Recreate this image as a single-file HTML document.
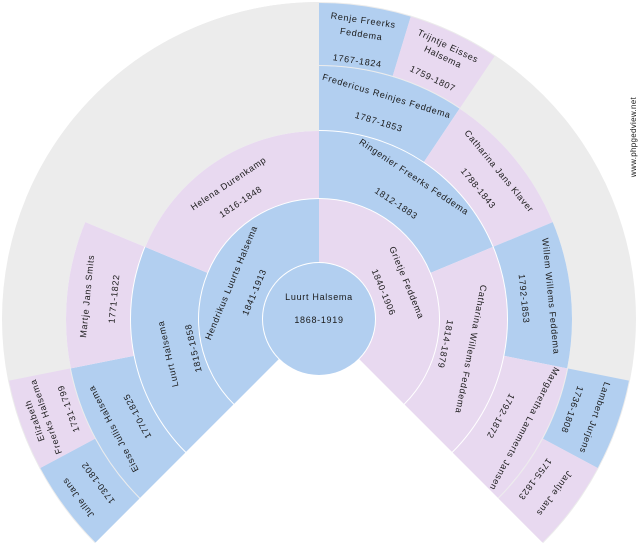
<!DOCTYPE html>
<html><head><meta charset="utf-8"><style>
html,body{margin:0;padding:0;background:#fff;width:640px;height:550px;overflow:hidden}
svg{display:block}
text{font-family:"Liberation Sans","DejaVu Sans",sans-serif;font-size:9px;fill:#1a1a1a;letter-spacing:0.7px;text-anchor:middle}
</style></head><body>
<svg id="s" width="640" height="550" viewBox="0 0 640 550" xmlns="http://www.w3.org/2000/svg">
<g id="segs"></g>
<g id="txt">
<text x="319" y="300">Luurt Halsema</text>
<text x="319" y="323">1868-1919</text>

<g transform="rotate(-67.5 319 319) translate(319 231)"><text y="-4">Hendrikus Luurts Halsema</text><text y="21">1841-1913</text></g>
<g transform="rotate(67.5 319 319) translate(319 231)"><text y="-4">Grietje Feddema</text><text y="21">1840-1906</text></g>

<g transform="rotate(-103 319 319) translate(319 165)"><text y="2">Luurt Halsema</text><text y="28">1815-1858</text></g>
<g transform="rotate(-33.75 319 319) translate(319 165)"><text y="-6">Helena Durenkamp</text><text y="16">1816-1848</text></g>
<g transform="rotate(33.75 319 319) translate(319 165)"><text y="-14">Ringenier Freerks Feddema</text><text y="18">1812-1883</text></g>
<g transform="rotate(101.25 319 319) translate(319 165)"><text y="2">Catharina Willems Feddema</text><text y="28">1814-1879</text></g>

<g transform="rotate(-118.125 319 319) translate(319 99)"><text y="-10">Eisse Jullis Halsema</text><text y="17">1770-1825</text></g>
<g transform="rotate(-84.375 319 319) translate(319 99)"><text y="-10">Martje Jans Smits</text><text y="17">1771-1822</text></g>
<g transform="rotate(16.875 319 319) translate(319 99)"><text y="-10">Fredericus Reinjes Feddema</text><text y="17">1787-1853</text></g>
<g transform="rotate(50.625 319 319) translate(319 99)"><text y="-10">Catharina Jans Klaver</text><text y="17">1788-1843</text></g>
<g transform="rotate(84.375 319 319) translate(319 99)"><text y="-10">Willem Willems Feddema</text><text y="17">1792-1853</text></g>
<g transform="rotate(118.125 319 319) translate(319 99)"><text y="-10">Margaretha Lammerts Jansen</text><text y="17">1792-1872</text></g>

<g transform="rotate(-126.5625 319 319) translate(319 34)"><text y="-12">Julle Jans</text><text y="13">1730-1802</text></g>
<g transform="rotate(-109.6875 319 319) translate(319 34)"><text y="-14">Elizabeth</text><text y="-2">Freerks Halsema</text><text y="22">1731-1799</text></g>
<g transform="rotate(8.4375 319 319) translate(319 34)"><text y="-14">Renje Freerks</text><text y="0">Feddema</text><text y="27">1767-1824</text></g>
<g transform="rotate(25.3125 319 319) translate(319 34)"><text y="-14">Trijntje Eisses</text><text y="-2">Halsema</text><text y="22">1759-1807</text></g>
<g transform="rotate(109.6875 319 319) translate(319 34)"><text y="-5">Lambert Jurjens</text><text y="19">1736-1808</text></g>
<g transform="rotate(126.5625 319 319) translate(319 34)"><text y="-5">Jantje Jans</text><text y="19">1755-1823</text></g>
</g>
<text transform="translate(636 137) rotate(-90)" style="font-size:8px;letter-spacing:0.3px">www.phpgedview.net</text>
</svg>
<script>
var cx=319,cy=319,B="#b2cff0",P="#e8d9f0",G="#ececec";
function pt(r,a){var t=a*Math.PI/180;return [cx+r*Math.sin(t),cy-r*Math.cos(t)];}
function seg(r1,r2,a1,a2,c){
 var p1=pt(r2,a1),p2=pt(r2,a2),p3=pt(r1,a2),p4=pt(r1,a1),l=(a2-a1)>180?1:0;
 var d="M"+p1+"A"+r2+","+r2+" 0 "+l+" 1 "+p2+"L"+p3+"A"+r1+","+r1+" 0 "+l+" 0 "+p4+"Z";
 var e=document.createElementNS("http://www.w3.org/2000/svg","path");
 e.setAttribute("d",d);e.setAttribute("fill",c);document.getElementById("segs").appendChild(e);}
var S=[
[253,317,-135,135,G],[188,317,-67.5,0,G],
[57,120,-135,0,B],[57,120,0,135,P],
[121,188,-135,-67.5,B],[121,188,-67.5,0,P],[121,188,0,67.5,B],[121,188,67.5,135,P],
[189,253,-135,-101.25,B],[189,253,-101.25,-67.5,P],[189,253,0,33.75,B],[189,253,33.75,67.5,P],[189,253,67.5,101.25,B],[189,253,101.25,135,P],
[254,316,-135,-118.125,B],[254,316,-118.125,-101.25,P],[254,316,0,16.875,B],[254,316,16.875,33.75,P],[254,316,101.25,118.125,B],[254,316,118.125,135,P]
];
S.forEach(function(s){seg.apply(null,s);});
var c=document.createElementNS("http://www.w3.org/2000/svg","circle");
c.setAttribute("cx",cx);c.setAttribute("cy",cy);c.setAttribute("r",56);c.setAttribute("fill",B);
document.getElementById("segs").appendChild(c);
</script>
</body></html>
